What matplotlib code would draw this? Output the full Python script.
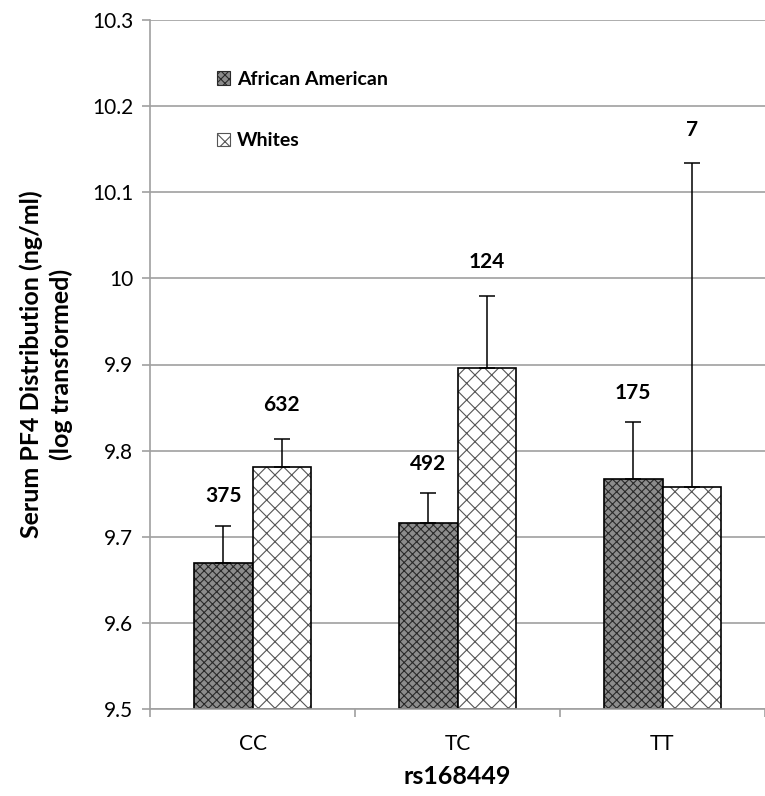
import matplotlib
matplotlib.use("Agg")
import matplotlib.pyplot as plt
import numpy as np
from matplotlib.patches import Patch
from matplotlib.ticker import FuncFormatter

plt.rcParams['font.family'] = ['Lato', 'DejaVu Sans']
plt.rcParams['hatch.linewidth'] = 0.8

# data
genotypes = ['CC', 'TC', 'TT']
aa_mean = [9.670, 9.716, 9.767]
aa_err = [0.043, 0.035, 0.066]
aa_n = ['375', '492', '175']
wh_mean = [9.781, 9.896, 9.758]
wh_err = [0.033, 0.084, 0.376]
wh_n = ['632', '124', '7']
yticks = [9.5, 9.6, 9.7, 9.8, 9.9, 10.0, 10.1, 10.2, 10.3]

fig = plt.figure(figsize=(7.65, 7.96), dpi=100)
ax = fig.add_axes([150/765, 87/796, 615/765, 689/796])

x = np.arange(len(genotypes))
w = 0.286
grid_c = '#a0a0a0'

# gridlines under bars
ax.set_axisbelow(True)
ax.yaxis.grid(True, color=grid_c, lw=1.2)

# african american: fine checker look
ax.bar(x - w/2, [m - 9.5 for m in aa_mean], w, bottom=9.5, color='#8c8c8c',
       edgecolor='#2a2a2a', hatch='xxxx', lw=0)
ax.bar(x - w/2, [m - 9.5 for m in aa_mean], w, bottom=9.5, fill=False,
       edgecolor='black', lw=1.2)
# whites: diagonal brick-ish pattern
ax.bar(x + w/2, [m - 9.5 for m in wh_mean], w, bottom=9.5, color='white',
       edgecolor='#555555', hatch='xx', lw=0)
ax.bar(x + w/2, [m - 9.5 for m in wh_mean], w, bottom=9.5, fill=False,
       edgecolor='black', lw=1.2)

# upper error bars only
ax.errorbar(x - w/2, aa_mean, yerr=[np.zeros(3), aa_err], fmt='none',
            ecolor='black', elinewidth=1.1, capsize=5.5, capthick=1.1)
ax.errorbar(x + w/2, wh_mean, yerr=[np.zeros(3), wh_err], fmt='none',
            ecolor='black', elinewidth=1.1, capsize=5.5, capthick=1.1)

# sample size labels
for i in range(3):
    ax.annotate(aa_n[i], xy=(x[i] - w/2, aa_mean[i] + aa_err[i]), xytext=(0, 21),
                textcoords='offset points', ha='center', va='center',
                fontsize=15, fontweight='bold')
    ax.annotate(wh_n[i], xy=(x[i] + w/2, wh_mean[i] + wh_err[i]), xytext=(0, 24),
                textcoords='offset points', ha='center', va='center',
                fontsize=15, fontweight='bold')

ax.set_ylim(9.5, 10.3)
ax.set_xlim(-0.5, -0.5 + 615/210)
ax.set_yticks(yticks)
ax.yaxis.set_major_formatter(FuncFormatter(lambda v, p: '%g' % round(v, 1)))
ax.set_xticks(x, genotypes)
ax.set_xticks([-0.5, 0.5, 1.5, 2.5], minor=True)
ax.tick_params(axis='x', which='major', length=0, pad=18, labelsize=15)
ax.tick_params(axis='x', which='minor', length=6, color=grid_c, width=1.2)
ax.tick_params(axis='y', length=6, color=grid_c, width=1.2, labelsize=15, pad=6)

for s in ['top', 'right']:
    ax.spines[s].set_visible(False)
for s in ['left', 'bottom']:
    ax.spines[s].set_color(grid_c)
    ax.spines[s].set_linewidth(1.2)

ax.set_xlabel('rs168449', fontsize=18, fontweight='bold', labelpad=8)
ax.set_ylabel('Serum PF4 Distribution (ng/ml)\n(log transformed)', fontsize=18,
              fontweight='bold', labelpad=14, linespacing=1.3)

handles = [Patch(facecolor='#8c8c8c', edgecolor='#2a2a2a', hatch='xxxx', lw=0.8),
           Patch(facecolor='white', edgecolor='#555555', hatch='xx', lw=0.8)]
ax.legend(handles, ['African American', 'Whites'], loc='upper left',
          bbox_to_anchor=(0.08, 0.952), frameon=False, handlelength=0.7,
          handleheight=0.7, handletextpad=0.35, labelspacing=2.3,
          prop={'weight': 'bold', 'size': 14})

fig.savefig('out.png', dpi=100)
